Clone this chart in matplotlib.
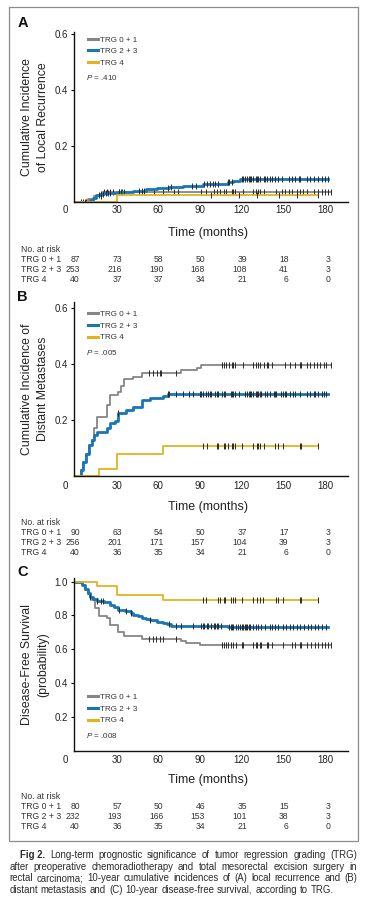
import numpy as np
import matplotlib
matplotlib.use('Agg')
import matplotlib.pyplot as plt
from matplotlib import transforms
from matplotlib.patches import Rectangle

plt.rcParams['font.family'] = ['Liberation Sans', 'DejaVu Sans']
plt.rcParams['mathtext.fontset'] = 'custom'
plt.rcParams['mathtext.it'] = 'Liberation Sans:italic'
plt.rcParams['mathtext.rm'] = 'Liberation Sans'

W, H = 366, 900
groups = ['TRG 0 + 1', 'TRG 2 + 3', 'TRG 4']
colors = ['#868686', '#1b74b4', '#e2b321']
widths = [1.3, 2.0, 1.3]
xticks = [0, 30, 60, 90, 120, 150, 180]

# A: local recurrence (cumulative incidence)
a_gray_t = [0, 9, 14, 20, 184]
a_gray_v = [0, 0.012, 0.023, 0.035, 0.035]
a_gray_cens = [4, 6, 19, 21, 23, 25, 27, 32, 34, 46, 48, 50, 57, 63, 71, 74, 91, 94, 100, 102, 104, 107, 109,
               113, 114, 115, 121, 128, 130, 132, 133, 136, 145, 149, 151, 154, 156, 160, 162, 164, 167, 172,
               175, 178, 180, 182, 184]
a_blue_t = [0, 11, 13, 15, 18, 21, 30, 42, 47, 51, 59, 68, 78, 92, 104, 110, 114, 119, 182]
a_blue_v = [0, 0.008, 0.016, 0.024, 0.028, 0.033, 0.036, 0.038, 0.041, 0.046, 0.051, 0.055, 0.059, 0.063,
            0.066, 0.070, 0.074, 0.083, 0.083]
a_blue_cens = [8, 17, 19, 20, 22, 24, 25, 32, 33, 35, 46, 48, 50, 67, 69, 84, 87, 93, 95, 97, 99, 101, 103, 110,
               111, 113, 120, 121, 122, 124, 125, 126, 127, 128, 130, 131, 132, 133, 136, 137, 138, 140, 142,
               144, 146, 149, 154, 156, 158, 161, 162, 167, 169, 172, 175, 178, 180, 182]
a_gold_t = [0, 30, 175]
a_gold_v = [0, 0.026, 0.026]
a_gold_cens = [7, 98, 118, 131, 147, 160, 175]
a_risk = [[87, 73, 58, 50, 39, 18, 3], [253, 216, 190, 168, 108, 41, 3], [40, 37, 37, 34, 21, 6, 0]]

# B: distant metastases
b_gray_t = [0, 4, 6, 8, 10, 12, 14, 15.5, 23, 25, 31, 33, 35, 42, 48, 76, 88, 91, 184]
b_gray_v = [0, 0.02, 0.05, 0.08, 0.11, 0.13, 0.17, 0.21, 0.255, 0.29, 0.30, 0.32, 0.345, 0.355, 0.367, 0.378,
            0.385, 0.397, 0.397]
b_gray_cens = [53, 56, 59, 61, 62, 73, 106, 107, 109, 111, 113, 114, 115, 121, 128, 130, 132, 133, 136, 138,
               139, 142, 151, 155, 158, 162, 163, 167, 169, 172, 174, 176, 179, 181, 184]
b_blue_t = [0, 4, 6, 8, 10, 12, 14, 16, 23, 25, 29, 31, 37, 42, 48, 54, 63, 67, 182]
b_blue_v = [0, 0.02, 0.05, 0.08, 0.11, 0.13, 0.145, 0.158, 0.17, 0.188, 0.196, 0.224, 0.236, 0.248, 0.27,
            0.279, 0.285, 0.294, 0.294]
b_blue_cens = [31, 67, 68, 73, 78, 82, 85, 90, 91, 92, 94, 96, 97, 98, 101, 102, 103, 106, 107, 108, 112, 113,
               114, 115, 118, 122, 124, 125, 126, 127, 128, 130, 131, 132, 133, 134, 137, 138, 140, 143, 144,
               145, 148, 150, 151, 152, 155, 157, 158, 162, 167, 169, 172, 173, 175, 178, 179, 181]
b_gold_t = [0, 17, 30, 63, 175]
b_gold_v = [0, 0.026, 0.079, 0.106, 0.106]
b_gold_cens = [92, 95, 102, 103, 107, 108, 110, 113, 114, 115, 120, 128, 131, 132, 133, 136, 144, 146, 150,
               162, 163, 175]
b_risk = [[90, 63, 54, 50, 37, 17, 3], [256, 201, 171, 157, 104, 39, 3], [40, 36, 35, 34, 21, 6, 0]]

# C: disease-free survival
c_gray_t = [0, 5, 7, 9, 11, 12.5, 14.5, 17, 23, 25, 31, 35, 48, 76, 80, 90, 184]
c_gray_v = [1, 0.98, 0.95, 0.93, 0.91, 0.89, 0.842, 0.795, 0.783, 0.745, 0.705, 0.68, 0.66, 0.651, 0.639,
            0.627, 0.627]
c_gray_cens = [53, 56, 58, 61, 63, 73, 106, 107, 109, 110, 112, 114, 116, 120, 121, 128, 130, 131, 133, 134,
               138, 139, 142, 150, 156, 158, 162, 163, 167, 170, 173, 175, 178, 180, 182, 184]
c_blue_t = [0, 5, 7, 9, 11, 13, 16, 21, 25, 28, 31, 36, 40, 42, 45, 48, 51, 54, 59, 63, 66, 69, 110, 182]
c_blue_v = [1, 0.98, 0.955, 0.935, 0.91, 0.895, 0.886, 0.877, 0.862, 0.85, 0.832, 0.825, 0.815, 0.803, 0.795,
            0.787, 0.78, 0.773, 0.763, 0.756, 0.749, 0.739, 0.733, 0.733]
c_blue_cens = [11, 16, 19, 20, 32, 37, 40, 54, 68, 73, 76, 85, 91, 92, 93, 95, 96, 98, 100, 101, 102, 103, 105,
               111, 112, 113, 114, 116, 117, 119, 120, 121, 122, 123, 124, 125, 126, 128, 130, 132, 134, 137,
               140, 142, 144, 146, 150, 152, 155, 157, 160, 162, 165, 168, 170, 173, 175, 178, 181]
c_gold_t = [0, 16, 30, 63, 175]
c_gold_v = [1, 0.973, 0.921, 0.892, 0.892]
c_gold_cens = [92, 94, 103, 104, 107, 108, 112, 114, 115, 120, 128, 131, 133, 135, 145, 146, 150, 162, 163, 175]
c_risk = [[80, 57, 50, 46, 35, 15, 3], [232, 193, 166, 153, 101, 38, 3], [40, 36, 35, 34, 21, 6, 0]]

caption = [
    [('Fig 2.', 'bold'), ('Long-term', 'normal'), ('prognostic', 'normal'), ('significance', 'normal'),
     ('of', 'normal'), ('tumor', 'normal'), ('regression', 'normal'), ('grading', 'normal'), ('(TRG)', 'normal')],
    'after preoperative chemoradiotherapy and total mesorectal excision surgery in',
    'rectal carcinoma; 10-year cumulative incidences of (A) local recurrence and (B)',
    'distant metastasis and (C) 10-year disease-free survival, according to TRG.',
]

panels = [
    dict(letter='A', top=32, bottom=202, ylim=0.608, yticks=[0.2, 0.4, 0.6],
         ylabel='Cumulative Incidence\nof Local Recurrence', p='.410',
         curves=[(a_gray_t, a_gray_v, a_gray_cens), (a_blue_t, a_blue_v, a_blue_cens),
                 (a_gold_t, a_gold_v, a_gold_cens)],
         risk=a_risk, leg_y=36, p_y=77, letter_y=23.3, tick_pad=2.0, xlab_y=233, risk_y=249),
    dict(letter='B', top=302, bottom=476, ylim=0.621, yticks=[0.2, 0.4, 0.6],
         ylabel='Cumulative Incidence of\nDistant Metastases', p='.005',
         curves=[(b_gray_t, b_gray_v, b_gray_cens), (b_blue_t, b_blue_v, b_blue_cens),
                 (b_gold_t, b_gold_v, b_gold_cens)],
         risk=b_risk, leg_y=310.5, p_y=352.7, letter_y=296.7, tick_pad=3.5, xlab_y=506.7, risk_y=522.7),
    dict(letter='C', top=578, bottom=750.5, ylim=1.022, yticks=[0.2, 0.4, 0.6, 0.8, 1.0],
         ylabel='Disease-Free Survival\n(probability)', p='.008',
         curves=[(c_gray_t, c_gray_v, c_gray_cens), (c_blue_t, c_blue_v, c_blue_cens),
                 (c_gold_t, c_gold_v, c_gold_cens)],
         risk=c_risk, leg_y=693.5, p_y=735, letter_y=572, tick_pad=3.5, xlab_y=780, risk_y=796.7),
]

fig = plt.figure(figsize=(W / 100, H / 100), dpi=100)
fig.patch.set_facecolor('white')

x_left_px, x_right_px = 65.3, 348
xmin, xmax = -7, 196.5

for pn in panels:
    ax = fig.add_axes([x_left_px / W, 1 - pn['bottom'] / H,
                       (x_right_px - x_left_px) / W, (pn['bottom'] - pn['top']) / H])
    ax.set_xlim(xmin, xmax)
    ax.set_ylim(0, pn['ylim'])
    for s in ['top', 'right']:
        ax.spines[s].set_visible(False)
    ax.spines['left'].set_position(('data', -0.7))
    ax.spines['bottom'].set_bounds(-0.7, xmax)
    for s in ['left', 'bottom']:
        ax.spines[s].set_linewidth(1.0)
        ax.spines[s].set_color('#111111')

    handles = []
    for (t, v, cens), col, lw, name in zip(pn['curves'], colors, widths, groups):
        line, = ax.step(t, v, where='post', color=col, lw=lw, label=name)
        handles.append(line)
        t_arr = np.array(t)
        v_arr = np.array(v)
        idx = np.searchsorted(t_arr, cens, side='right') - 1
        ax.plot(cens, v_arr[idx], ls='none', marker='|', ms=4.5, mew=0.7, color='#2a2a2a')

    # x ticks: "0" sits left of the y axis as in the original
    ax.set_xticks([-6.7] + xticks[1:], ['0'] + [str(x) for x in xticks[1:]])
    ax.tick_params(axis='x', length=0, pad=pn['tick_pad'], labelsize=7, labelcolor='#222222')
    ax.set_yticks(pn['yticks'], [f'{y:.1f}' for y in pn['yticks']])
    ax.tick_params(axis='y', length=2.5, width=0.8, pad=2, labelsize=7, labelcolor='#222222')

    ax.set_xlabel('Time (months)', fontsize=9, color='#222222')
    ax.xaxis.set_label_coords(207.5 / W, 1 - pn['xlab_y'] / H, transform=fig.transFigure)
    ax.xaxis.label.set_va('center')
    ax.set_ylabel(pn['ylabel'], fontsize=8.8, color='#222222', linespacing=1.4)
    ax.yaxis.set_label_coords(35 / W, 1 - (pn['top'] + pn['bottom']) / 2 / H, transform=fig.transFigure)
    ax.yaxis.label.set_va('center')

    leg = ax.legend(handles=handles, loc='upper left', bbox_to_anchor=(88 / W, 1 - pn['leg_y'] / H),
                    bbox_transform=fig.transFigure, frameon=False, fontsize=5.8, borderpad=0,
                    borderaxespad=0, handlelength=1.2, handletextpad=0.35, labelspacing=0.5)
    for h in leg.get_lines():
        h.set_linewidth(2.2)
    for tx in leg.get_texts():
        tx.set_color('#333333')

    fig.text(86 / W, 1 - pn['p_y'] / H, r'$P$ = ' + pn['p'], fontsize=5.8, va='center', ha='left',
             color='#333333')
    fig.text(17.5 / W, 1 - pn['letter_y'] / H, pn['letter'], fontsize=10.5, fontweight='bold',
             va='center', ha='left', color='#111111')

    # number at risk table
    fig.text(21 / W, 1 - pn['risk_y'] / H, 'No. at risk', fontsize=6.2, va='center', ha='left', color='#333333')
    trans = transforms.blended_transform_factory(ax.transData, fig.transFigure)
    trans = transforms.offset_copy(trans, fig=fig, x=5, y=0, units='dots')
    for i, (name, row) in enumerate(zip(groups, pn['risk'])):
        yy = 1 - (pn['risk_y'] + 10 * (i + 1)) / H
        fig.text(21 / W, yy, name, fontsize=6.2, va='center', ha='left', color='#333333')
        for x, n in zip(xticks, row):
            ax.text(x, yy, str(n), transform=trans, fontsize=6.2, va='center', ha='right',
                    color='#333333', clip_on=False)

# outer frame
fig.patches.append(Rectangle((9 / W, 1 - 841 / H), (357.5 - 9) / W, (841 - 7.3) / H,
                             transform=fig.transFigure, fill=False, edgecolor='#8c8c8c', lw=0.9))

# justified caption
renderer = fig.canvas.get_renderer()
cap_y = [855, 866.7, 878.3, 890]
cap_left = [20, 9.3, 9.3, 9.3]
cap_right = [357, 357, 357, 334]
for line, y, xl, xr in zip(caption, cap_y, cap_left, cap_right):
    if isinstance(line, str):
        line = [(w, 'normal') for w in line.split()]
    words = []
    for w, weight in line:
        words.append(fig.text(0, 1 - y / H, w, fontsize=6.9, fontweight=weight, va='center', ha='left',
                              color='#2b2b2b'))
    wds = [t.get_window_extent(renderer).width for t in words]
    gap = (xr - xl - sum(wds)) / (len(words) - 1)
    x = xl
    for t, wd in zip(words, wds):
        t.set_x(x / W)
        x += wd + gap

fig.savefig('out.png', dpi=100, facecolor='white')
